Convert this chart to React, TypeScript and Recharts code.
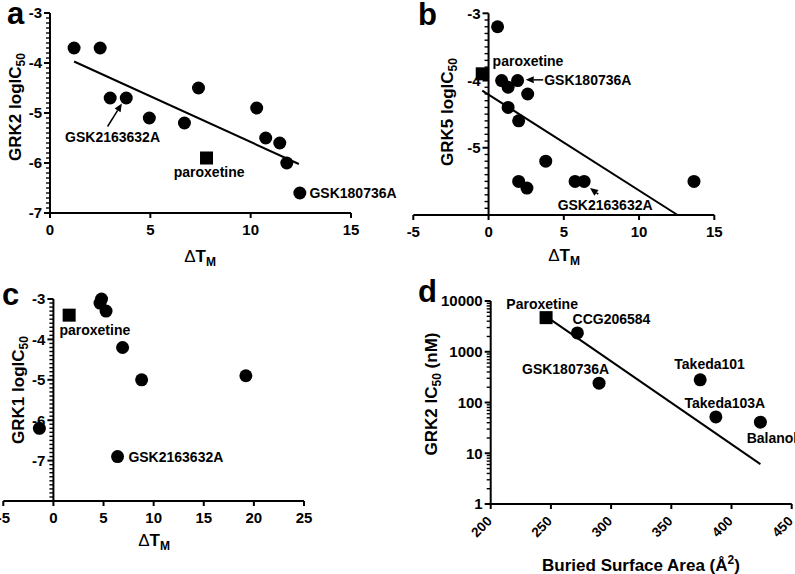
import React from "react";
import { ScatterChart, Scatter, XAxis, YAxis, ReferenceLine } from "recharts";

const FONT = "'Liberation Sans', Arial, Helvetica, sans-serif";

type Pt = { x: number; y: number };
type Note = { x: number; y: number; text: string; anchor: "start" | "middle" | "end" };
type Arrow = { from: Pt; to: Pt };

// ---- panel a: GRK2 logIC50 vs dTm
const grk2Compounds: Pt[] = [
  { x: 1.2, y: -3.7 },
  { x: 2.5, y: -3.7 },
  { x: 3.0, y: -4.7 },
  { x: 3.8, y: -4.7 },
  { x: 4.95, y: -5.1 },
  { x: 6.7, y: -5.2 },
  { x: 7.4, y: -4.5 },
  { x: 10.3, y: -4.9 },
  { x: 10.75, y: -5.5 },
  { x: 11.45, y: -5.6 },
  { x: 11.8, y: -6.0 },
  { x: 12.45, y: -6.6 },
];
const grk2Paroxetine: Pt[] = [{ x: 7.8, y: -5.9 }];
const grk2Fit: Pt[] = [
  { x: 1.2, y: -3.97 },
  { x: 12.4, y: -6.02 },
];
const grk2Notes: Note[] = [
  { x: 0.75, y: -5.58, text: "GSK2163632A", anchor: "start" },
  { x: 7.93, y: -6.28, text: "paroxetine", anchor: "middle" },
  { x: 12.93, y: -6.7, text: "GSK180736A", anchor: "start" },
];
const grk2Arrows: Arrow[] = [{ from: { x: 2.87, y: -5.27 }, to: { x: 3.58, y: -4.81 } }];

// ---- panel b: GRK5 logIC50 vs dTm
const grk5Compounds: Pt[] = [
  { x: 0.6, y: -3.2 },
  { x: 0.87, y: -4.0 },
  { x: 1.93, y: -4.0 },
  { x: 1.3, y: -4.1 },
  { x: 2.6, y: -4.2 },
  { x: 1.3, y: -4.4 },
  { x: 2.0, y: -4.6 },
  { x: 3.8, y: -5.2 },
  { x: 2.0, y: -5.5 },
  { x: 2.55, y: -5.6 },
  { x: 5.75, y: -5.5 },
  { x: 6.35, y: -5.5 },
  { x: 13.65, y: -5.5 },
];
const grk5Paroxetine: Pt[] = [{ x: -0.42, y: -3.9 }];
const grk5Fit: Pt[] = [
  { x: -0.42, y: -4.15 },
  { x: 12.56, y: -6.0 },
];
const grk5Notes: Note[] = [
  { x: 0.27, y: -3.79, text: "paroxetine", anchor: "start" },
  { x: 3.7, y: -4.07, text: "GSK180736A", anchor: "start" },
  { x: 4.59, y: -5.93, text: "GSK2163632A", anchor: "start" },
];
const grk5Arrows: Arrow[] = [
  { from: { x: 3.63, y: -3.99 }, to: { x: 2.47, y: -3.99 } },
  { from: { x: 7.29, y: -5.69 }, to: { x: 6.74, y: -5.6 } },
];

// ---- panel c: GRK1 logIC50 vs dTm
const grk1Compounds: Pt[] = [
  { x: 4.8, y: -3.0 },
  { x: 4.65, y: -3.1 },
  { x: 5.25, y: -3.3 },
  { x: 6.9, y: -4.2 },
  { x: 8.8, y: -5.0 },
  { x: 19.2, y: -4.9 },
  { x: -1.4, y: -6.2 },
  { x: 6.4, y: -6.9 },
];
const grk1Paroxetine: Pt[] = [{ x: 1.57, y: -3.4 }];
const grk1Notes: Note[] = [
  { x: 0.6, y: -3.88, text: "paroxetine", anchor: "start" },
  { x: 7.48, y: -7.04, text: "GSK2163632A", anchor: "start" },
];

// ---- panel d: GRK2 IC50 (nM) vs buried surface area
const bsaCompounds: Pt[] = [
  { x: 272, y: 2350 },
  { x: 290, y: 240 },
  { x: 374, y: 280 },
  { x: 387, y: 52 },
  { x: 424, y: 41 },
];
const bsaParoxetine: Pt[] = [{ x: 246, y: 4700 }];
const bsaFit: Pt[] = [
  { x: 248, y: 4600 },
  { x: 424, y: 6.1 },
];
const bsaNotes: Note[] = [
  { x: 213, y: 6950, text: "Paroxetine", anchor: "start" },
  { x: 268, y: 3475, text: "CCG206584", anchor: "start" },
  { x: 226, y: 360, text: "GSK180736A", anchor: "start" },
  { x: 352.5, y: 457, text: "Takeda101", anchor: "start" },
  { x: 361, y: 77, text: "Takeda103A", anchor: "start" },
  { x: 412.6, y: 16.1, text: "Balanol", anchor: "start" },
];

const dtmTicks = { a: [0, 5, 10, 15], b: [-5, 0, 5, 10, 15], c: [-5, 0, 5, 10, 15, 20, 25] };
const bsaTicks = [200, 250, 300, 350, 400, 450];
const logLabels = [1, 10, 100, 1000, 10000];

function linTicks(lo: number, hi: number, step: number) {
  const n = Math.round((hi - lo) / step);
  return Array.from({ length: n + 1 }, (_, i) => Math.round((lo + i * step) * 1000) / 1000);
}
function logTicks(lo: number, hi: number) {
  const out: number[] = [];
  for (let e = lo; e < hi; e++) for (let m = 1; m < 10; m++) out.push(m * 10 ** e);
  out.push(10 ** hi);
  return out;
}

const Dot = (p: any) => <circle cx={p.cx} cy={p.cy} r={6.5} fill="#000" />;
const Square = (p: any) => <rect x={p.cx - 6.5} y={p.cy - 6.5} width={13} height={13} fill="#000" />;
const NoteText = (p: any) => (
  <text x={p.cx} y={p.cy} textAnchor={p.payload.anchor} fontSize={14} fontWeight="bold" fontFamily={FONT} fill="#000">
    {p.payload.text}
  </text>
);
const arrowShape = (p: any) => {
  const { x1, y1, x2, y2 } = p;
  const ang = Math.atan2(y2 - y1, x2 - x1);
  const L = 8;
  const W = 3.5;
  const bx = x2 - L * Math.cos(ang);
  const by = y2 - L * Math.sin(ang);
  const pts = `${x2},${y2} ${bx - W * Math.sin(ang)},${by + W * Math.cos(ang)} ${bx + W * Math.sin(ang)},${by - W * Math.cos(ang)}`;
  return (
    <g>
      <line x1={x1} y1={y1} x2={bx} y2={by} stroke="#000" strokeWidth={1.5} />
      <polygon points={pts} fill="#000" />
    </g>
  );
};

interface PanelSpec {
  left: number;
  top: number;
  width: number;
  height: number;
  // plot-area insets inside the chart box
  inset: { top: number; right: number; bottom: number; left: number };
  xDomain: [number, number];
  xTicks: number[];
  rotateX?: boolean;
  yDomain: [number, number];
  yTicks: number[];
  yLabels: number[];
  yLog?: boolean;
  yAxisAt: number;
  points: Pt[];
  squares: Pt[];
  fit?: Pt[];
  notes: Note[];
  arrows: Arrow[];
}

// axes need a non-zero box to be drawn, keep them 1px and take it out of the margins
const AXIS_BOX = 1;

function Panel(s: PanelSpec) {
  const plotW = s.width - s.inset.left - s.inset.right;
  const axisX = s.inset.left + ((s.yAxisAt - s.xDomain[0]) / (s.xDomain[1] - s.xDomain[0])) * plotW;
  const axisY = s.height - s.inset.bottom;
  const margin = {
    top: s.inset.top,
    right: s.inset.right,
    bottom: s.inset.bottom - AXIS_BOX,
    left: s.inset.left - AXIS_BOX,
  };

  const yTick = (p: any) => {
    const v = p.payload.value;
    const major = s.yLabels.some((m) => Math.abs(m - v) < 1e-6);
    const len = major ? 6 : 4;
    return (
      <g>
        <line x1={axisX - len} x2={axisX} y1={p.y} y2={p.y} stroke="#000" strokeWidth={major ? 2 : 1.4} />
        {major && (
          <text x={axisX - 8} y={p.y} dy="0.36em" textAnchor="end" fontSize={15} fontWeight="bold" fontFamily={FONT} fill="#000">
            {v}
          </text>
        )}
      </g>
    );
  };

  const xTickRot = (p: any) => {
    const ax = p.x + 2;
    const ay = axisY + 18;
    return (
      <text x={ax} y={ay} transform={`rotate(-45 ${ax} ${ay})`} textAnchor="end" fontSize={13.5} fontWeight="bold" fontFamily={FONT} fill="#000">
        {p.payload.value}
      </text>
    );
  };

  return (
    <div style={{ position: "absolute", left: s.left, top: s.top }}>
      <ScatterChart width={s.width} height={s.height} margin={margin}>
        <XAxis
          type="number"
          dataKey="x"
          domain={s.xDomain}
          ticks={s.xTicks}
          interval={0}
          height={AXIS_BOX}
          axisLine={{ stroke: "#000", strokeWidth: 2 }}
          tickLine={{ stroke: "#000", strokeWidth: 2 }}
          tickSize={5}
          tickMargin={6}
          tick={s.rotateX ? xTickRot : { fill: "#000", fontSize: 15, fontWeight: "bold", fontFamily: FONT }}
        />
        <YAxis
          type="number"
          dataKey="y"
          domain={s.yDomain}
          {...(s.yLog ? { scale: "log" as const } : {})}
          ticks={s.yTicks}
          interval={0}
          width={AXIS_BOX}
          axisLine={false}
          tickLine={false}
          tick={yTick}
        />
        <ReferenceLine x={s.yAxisAt} stroke="#000" strokeWidth={2} ifOverflow="visible" />
        {s.fit && <ReferenceLine segment={s.fit} stroke="#000" strokeWidth={2} ifOverflow="visible" />}
        {s.arrows.map((a, i) => (
          <ReferenceLine key={i} segment={[a.from, a.to]} shape={arrowShape} ifOverflow="visible" />
        ))}
        <Scatter data={s.points} shape={Dot} isAnimationActive={false} />
        <Scatter data={s.squares} shape={Square} isAnimationActive={false} />
        <Scatter data={s.notes} shape={NoteText} isAnimationActive={false} />
      </ScatterChart>
    </div>
  );
}

const titleStyle = { fontSize: 17, fontWeight: "bold" as const, fontFamily: FONT, fill: "#000" };
const letterStyle = { fontSize: 31, fontWeight: "bold" as const, fontFamily: FONT, fill: "#000" };

function YTitle({ x, y, main, sub, tail }: { x: number; y: number; main: string; sub: string; tail?: string }) {
  return (
    <text x={x} y={y} transform={`rotate(-90 ${x} ${y})`} textAnchor="middle" {...titleStyle}>
      {main}
      <tspan fontSize={12} dy={4}>
        {sub}
      </tspan>
      {tail && <tspan dy={-4}>{tail}</tspan>}
    </text>
  );
}

function DtmTitle({ x, y }: { x: number; y: number }) {
  return (
    <text x={x} y={y} textAnchor="middle" {...titleStyle}>
      <tspan fontWeight="normal">Δ</tspan>T
      <tspan fontSize={12} dy={4}>
        M
      </tspan>
    </text>
  );
}

export default function App() {
  return (
    <div style={{ position: "absolute", left: 0, top: 0, width: 795, height: 574, background: "#fff", overflow: "hidden" }}>
      <Panel
        left={0}
        top={0}
        width={405}
        height={285}
        inset={{ top: 13, right: 54, bottom: 72, left: 50 }}
        xDomain={[0, 15]}
        xTicks={dtmTicks.a}
        yDomain={[-7, -3]}
        yTicks={linTicks(-7, -3, 0.1)}
        yLabels={[-7, -6, -5, -4, -3]}
        yAxisAt={0}
        points={grk2Compounds}
        squares={grk2Paroxetine}
        fit={grk2Fit}
        notes={grk2Notes}
        arrows={grk2Arrows}
      />
      <Panel
        left={395}
        top={0}
        width={400}
        height={285}
        inset={{ top: 13.3, right: 80.7, bottom: 70, left: 18.3 }}
        xDomain={[-5, 15]}
        xTicks={dtmTicks.b}
        yDomain={[-6, -3]}
        yTicks={linTicks(-6, -3, 0.1)}
        yLabels={[-5, -4, -3]}
        yAxisAt={0}
        points={grk5Compounds}
        squares={grk5Paroxetine}
        fit={grk5Fit}
        notes={grk5Notes}
        arrows={grk5Arrows}
      />
      <Panel
        left={0}
        top={285}
        width={395}
        height={289}
        inset={{ top: 14, right: 91, bottom: 73, left: 3.3 }}
        xDomain={[-5, 25]}
        xTicks={dtmTicks.c}
        yDomain={[-8, -3]}
        yTicks={linTicks(-8, -3, 0.1)}
        yLabels={[-7, -6, -5, -4, -3]}
        yAxisAt={0}
        points={grk1Compounds}
        squares={grk1Paroxetine}
        notes={grk1Notes}
        arrows={[]}
      />
      <Panel
        left={395}
        top={285}
        width={400}
        height={289}
        inset={{ top: 16, right: 3.3, bottom: 70, left: 95.7 }}
        xDomain={[200, 450]}
        xTicks={bsaTicks}
        rotateX
        yDomain={[1, 10000]}
        yTicks={logTicks(0, 4)}
        yLabels={logLabels}
        yLog
        yAxisAt={200}
        points={bsaCompounds}
        squares={bsaParoxetine}
        fit={bsaFit}
        notes={bsaNotes}
        arrows={[]}
      />
      <svg width={795} height={574} style={{ position: "absolute", left: 0, top: 0, pointerEvents: "none" }}>
        <text x={7} y={24} {...letterStyle}>a</text>
        <text x={418} y={25} {...letterStyle}>b</text>
        <text x={2} y={305} {...letterStyle}>c</text>
        <text x={418} y={302} {...letterStyle}>d</text>
        <YTitle x={21} y={107} main="GRK2 logIC" sub="50" />
        <YTitle x={453} y={112} main="GRK5 logIC" sub="50" />
        <YTitle x={24} y={390} main="GRK1 logIC" sub="50" />
        <YTitle x={437} y={394} main="GRK2 IC" sub="50" tail=" (nM)" />
        <DtmTitle x={200} y={262} />
        <DtmTitle x={564} y={261} />
        <DtmTitle x={154} y={546} />
        <text x={641} y={571} textAnchor="middle" {...titleStyle}>
          Buried Surface Area (Å
          <tspan fontSize={12} dy={-7}>
            2
          </tspan>
          <tspan dy={7}>)</tspan>
        </text>
      </svg>
    </div>
  );
}
